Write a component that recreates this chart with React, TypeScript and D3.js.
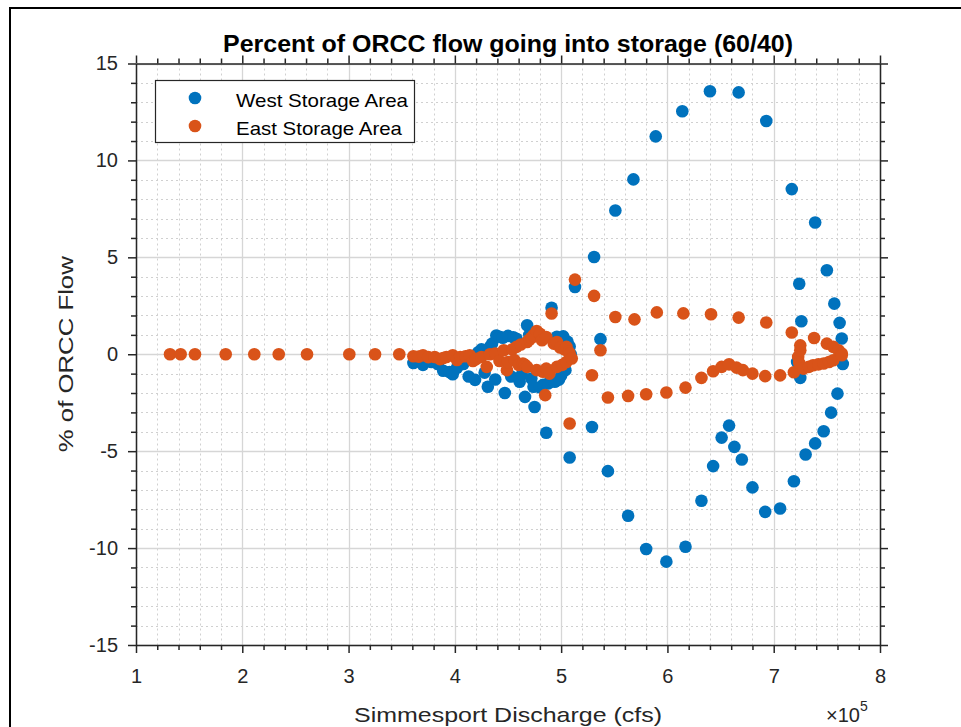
import React, { useEffect, useRef } from "react";
import * as d3 from "d3";

// x in units of 1e5 cfs, y in % of ORCC flow
const westX = [
  3.61, 3.70, 3.74, 3.78, 3.84, 3.89, 3.95, 3.98, 4.02, 4.08, 4.13, 4.19, 4.22, 4.25, 4.28, 4.31, 4.33, 4.35, 4.38, 4.39, 4.42, 4.45,
  4.47, 4.50, 4.53, 4.55, 4.58, 4.61, 4.63, 4.66, 4.68, 4.70, 4.72, 4.74, 4.75, 4.80, 4.83, 4.86, 4.88, 4.91, 4.94, 4.96,
  4.96, 4.98, 5.00, 5.02, 5.02, 5.04, 5.06, 5.08, 5.09, 5.08, 5.13, 5.29, 5.31, 5.37, 5.44, 5.51, 5.63, 5.68,
  5.80, 5.89, 5.99, 6.14, 6.17, 6.32, 6.40, 6.43, 6.51, 6.58, 6.63, 6.67, 6.70, 6.80, 6.92, 6.93, 7.06,
  7.17, 7.19, 7.22, 7.24, 7.25, 7.26, 7.30, 7.39, 7.39, 7.47, 7.50, 7.54, 7.57, 7.60, 7.62, 7.64, 7.65,
];
const westY = [
  -0.45, -0.55, -0.35, -0.40, -0.50, -0.85, -0.92, -1.03, -0.70, -0.50, -1.15, -1.32, 0.10, 0.25, -0.95, -1.68, 0.38, 0.55, -1.30, 0.97, 0.90, 0.85,
  -2.00, 0.95, -1.15, 0.88, 0.80, -1.42, -1.05, -2.20, 1.50, 1.00, -1.25, -1.68, -2.72, -1.70, -1.58, -4.05, -1.50, 2.40, -1.42, 0.90,
  -1.34, -1.30, -1.10, 0.92, -0.74, -0.82, 0.65, 0.40, 0.00, -5.33, 3.47, -3.75, 5.02, 0.78, -6.03, 7.42, -8.33, 9.02,
  -10.05, 11.24, -10.70, 12.54, -9.93, -7.56, 13.57, -5.77, -4.30, -3.68, -4.78, 13.51, -5.43, -6.87, -8.13, 12.03, -7.96,
  8.52, -6.55, -0.40, 3.64, -1.22, 1.70, -5.17, 6.80, -4.60, -3.97, 4.33, -3.01, 2.61, -2.03, 1.62, 0.81, -0.50,
];

const eastX = [
  1.32, 1.42, 1.555, 1.844, 2.113, 2.343, 2.609, 3.007, 3.249, 3.477, 3.61, 3.66, 3.70, 3.75, 3.81, 3.86, 3.89, 3.92, 3.98,
  4.02, 4.05, 4.10, 4.14, 4.17, 4.20, 4.25, 4.30, 4.33, 4.38, 4.42, 4.46, 4.49, 4.50, 4.54, 4.56, 4.58, 4.60, 4.62, 4.64, 4.66, 4.68, 4.68,
  4.70, 4.72, 4.74, 4.77, 4.77, 4.80, 4.82, 4.83, 4.86, 4.86, 4.85, 4.89, 4.91, 4.93, 4.96, 4.96, 4.99, 5.01, 5.03, 5.05, 5.05,
  5.07, 5.08, 5.08, 5.10, 5.13, 5.29, 5.31, 5.37, 5.44, 5.51, 5.63, 5.69, 5.80, 5.90, 5.99, 6.15, 6.17, 6.32,
  6.41, 6.43, 6.51, 6.58, 6.65, 6.67, 6.71, 6.80, 6.92, 6.93, 7.06, 7.17, 7.19, 7.23, 7.24, 7.25, 7.25, 7.28,
  7.33, 7.37, 7.38, 7.42, 7.47, 7.50, 7.52, 7.56, 7.56, 7.61, 7.64, 7.64,
];
const eastY = [
  0, 0, 0, 0, 0, 0, 0, 0, 0, 0, -0.10, -0.12, -0.05, -0.15, -0.14, -0.25, -0.20, -0.14, -0.05,
  -0.30, -0.14, -0.10, -0.05, -0.35, -0.25, -0.14, -0.65, 0.00, 0.04, -0.35, 0.21, -0.82, -0.40, 0.25, -0.30, 0.38, -0.55, 0.50, -0.48, -0.55, 0.63, -0.65,
  0.75, 0.85, 0.98, 1.20, -0.82, 1.06, 0.72, -0.90, 0.89, -0.74, -2.11, -1.00, 2.10, 0.55, 0.63, -0.65, 0.35, -0.55, 0.25, 0.38, -0.40,
  0.12, 0.04, -3.57, -0.22, 3.85, -1.08, 3.01, 0.21, -2.23, 1.92, -2.15, 1.80, -2.06, 2.16, -1.97, 2.11, -1.72, -1.22,
  2.06, -0.88, -0.65, -0.52, -0.69, 1.89, -0.82, -1.00, -1.13, 1.64, -1.09, 1.12, -0.93, -0.14, -0.45, 0.20, 0.46, -0.74,
  -0.65, -0.57, 0.84, -0.52, -0.48, 0.55, -0.40, 0.38, -0.31, 0.21, 0.04, -0.05,
];

const xTicks = [1, 2, 3, 4, 5, 6, 7, 8];
const yTicks = [-15, -10, -5, 0, 5, 10, 15];
const seriesNames = ["West Storage Area", "East Storage Area"];
const seriesColors = ["#0072BD", "#D95319"];
const titleText = "Percent of ORCC flow going into storage (60/40)";
const xLabel = "Simmesport Discharge (cfs)";
const yLabel = "% of ORCC Flow";

const W = 961;
const H = 727;
const FONT = "'Liberation Sans', Arial, Helvetica, sans-serif";

export default function App() {
  const ref = useRef<SVGSVGElement | null>(null);

  useEffect(() => {
    const svg = d3.select(ref.current);
    svg.selectAll("*").remove();

    const left = 136, right = 880, top = 63.5, bottom = 645;
    const x = d3.scaleLinear().domain([1, 8]).range([left, right]);
    const y = d3.scaleLinear().domain([-15, 15]).range([bottom, top]);

    svg.append("rect").attr("width", W).attr("height", H).attr("fill", "#fff");
    // figure frame
    svg.append("rect").attr("x", 10).attr("y", 8).attr("width", 1000).attr("height", 800)
      .attr("fill", "none").attr("stroke", "#000").attr("stroke-width", 2);

    const g = svg.append("g");
    // minor grid
    const xMinor = d3.range(1, 8.0001, 0.2).filter((v) => Math.abs(v - Math.round(v)) > 1e-6);
    const yMinor = d3.range(-15, 15.0001, 1).filter((v) => v % 5 !== 0);
    g.selectAll(".xm").data(xMinor).join("line")
      .attr("x1", (d) => Math.round(x(d)) + 0.5).attr("x2", (d) => Math.round(x(d)) + 0.5)
      .attr("y1", top).attr("y2", bottom)
      .attr("stroke", "#d0d0d0").attr("stroke-width", 1).attr("stroke-dasharray", "2,3");
    g.selectAll(".ym").data(yMinor).join("line")
      .attr("y1", (d) => Math.round(y(d)) + 0.5).attr("y2", (d) => Math.round(y(d)) + 0.5)
      .attr("x1", left).attr("x2", right)
      .attr("stroke", "#d0d0d0").attr("stroke-width", 1).attr("stroke-dasharray", "2,3");
    // major grid
    g.selectAll(".xg").data(xTicks).join("line")
      .attr("x1", (d) => Math.round(x(d)) + 0.5).attr("x2", (d) => Math.round(x(d)) + 0.5)
      .attr("y1", top).attr("y2", bottom)
      .attr("stroke", "#d6d6d6").attr("stroke-width", 1.3);
    g.selectAll(".yg").data(yTicks).join("line")
      .attr("y1", (d) => Math.round(y(d)) + 0.5).attr("y2", (d) => Math.round(y(d)) + 0.5)
      .attr("x1", left).attr("x2", right)
      .attr("stroke", "#d6d6d6").attr("stroke-width", 1.3);

    // points
    const west = westX.map((v, i) => [v, westY[i]]);
    const east = eastX.map((v, i) => [v, eastY[i]]);
    [west, east].forEach((pts, si) => {
      g.append("g").selectAll("circle").data(pts).join("circle")
        .attr("cx", (d) => x(d[0])).attr("cy", (d) => y(d[1]))
        .attr("r", 6.3).attr("fill", seriesColors[si]);
    });

    // axes box with outward ticks
    const axisStyle = (sel: any) => {
      sel.select(".domain").attr("stroke", "#262626").attr("stroke-width", 1.5);
      sel.selectAll(".tick line").attr("stroke", "#262626").attr("stroke-width", 1.5);
      sel.selectAll("text").attr("font-family", FONT).attr("font-size", 20).attr("fill", "#262626");
    };
    const mkMinor = (sel: any) => sel.selectAll("text").remove();

    const bx = svg.append("g").attr("transform", `translate(0,${bottom})`)
      .call(d3.axisBottom(x).tickValues(xTicks).tickFormat(d3.format("d")).tickSize(8).tickPadding(16).tickSizeOuter(0));
    axisStyle(bx);
    const bxm = svg.append("g").attr("transform", `translate(0,${bottom})`)
      .call(d3.axisBottom(x).tickValues(xMinor).tickSize(5).tickSizeOuter(0));
    axisStyle(bxm); mkMinor(bxm); bxm.select(".domain").remove();

    const tx = svg.append("g").attr("transform", `translate(0,${top})`)
      .call(d3.axisTop(x).tickValues(xTicks).tickSize(8).tickSizeOuter(0));
    axisStyle(tx); mkMinor(tx);
    const txm = svg.append("g").attr("transform", `translate(0,${top})`)
      .call(d3.axisTop(x).tickValues(xMinor).tickSize(5).tickSizeOuter(0));
    axisStyle(txm); mkMinor(txm); txm.select(".domain").remove();

    const ly = svg.append("g").attr("transform", `translate(${left},0)`)
      .call(d3.axisLeft(y).tickValues(yTicks).tickFormat(d3.format("d")).tickSize(8).tickPadding(10).tickSizeOuter(0));
    axisStyle(ly);
    ly.selectAll("text").text((d: any) => (d < 0 ? "-" + Math.abs(d) : String(d)));
    const lym = svg.append("g").attr("transform", `translate(${left},0)`)
      .call(d3.axisLeft(y).tickValues(yMinor).tickSize(5).tickSizeOuter(0));
    axisStyle(lym); mkMinor(lym); lym.select(".domain").remove();

    const ry = svg.append("g").attr("transform", `translate(${right},0)`)
      .call(d3.axisRight(y).tickValues(yTicks).tickSize(8).tickSizeOuter(0));
    axisStyle(ry); mkMinor(ry);
    const rym = svg.append("g").attr("transform", `translate(${right},0)`)
      .call(d3.axisRight(y).tickValues(yMinor).tickSize(5).tickSizeOuter(0));
    axisStyle(rym); mkMinor(rym); rym.select(".domain").remove();

    // exponent label
    const ex = svg.append("text").attr("x", 826).attr("y", 722)
      .attr("font-family", FONT).attr("font-size", 20).attr("fill", "#262626");
    ex.append("tspan").text("×10");
    ex.append("tspan").attr("dy", -11).attr("font-size", 14).text("5");

    // title
    svg.append("text").attr("x", (left + right) / 2).attr("y", 52).attr("text-anchor", "middle")
      .attr("font-family", FONT).attr("font-size", 23).attr("font-weight", "bold").attr("fill", "#000")
      .attr("textLength", 570).attr("lengthAdjust", "spacingAndGlyphs").text(titleText);

    // axis labels
    svg.append("text").attr("x", (left + right) / 2).attr("y", 722).attr("text-anchor", "middle")
      .attr("font-family", FONT).attr("font-size", 21).attr("fill", "#262626")
      .attr("textLength", 308).attr("lengthAdjust", "spacingAndGlyphs").text(xLabel);
    svg.append("text").attr("transform", `translate(73,${(top + bottom) / 2}) rotate(-90)`)
      .attr("text-anchor", "middle")
      .attr("font-family", FONT).attr("font-size", 21).attr("fill", "#262626")
      .attr("textLength", 196).attr("lengthAdjust", "spacingAndGlyphs").text(yLabel);

    // legend
    const lg = svg.append("g");
    lg.append("rect").attr("x", 155.5).attr("y", 80.5).attr("width", 259).attr("height", 62)
      .attr("fill", "#fff").attr("stroke", "#262626").attr("stroke-width", 1.2);
    seriesNames.forEach((name, i) => {
      const cy = 98 + i * 28;
      lg.append("circle").attr("cx", 195).attr("cy", cy).attr("r", 6.3).attr("fill", seriesColors[i]);
      lg.append("text").attr("x", 236).attr("y", cy + 8.5)
        .attr("font-family", FONT).attr("font-size", 19).attr("fill", "#000")
        .attr("textLength", i === 0 ? 172 : 166).attr("lengthAdjust", "spacingAndGlyphs").text(name);
    });
  }, []);

  return (
    <svg ref={ref} width={W} height={H}
      style={{ position: "absolute", left: 0, top: 0, display: "block" }} />
  );
}
